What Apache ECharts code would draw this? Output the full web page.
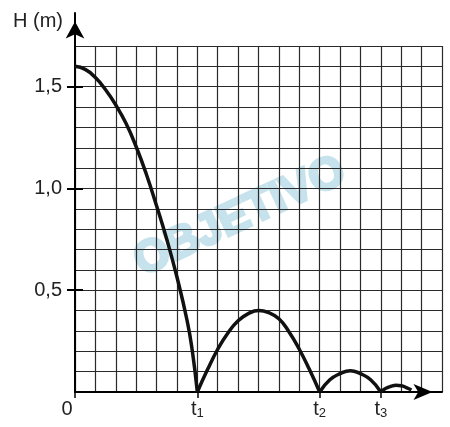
<!DOCTYPE html>
<html>
<head>
<meta charset="utf-8">
<script src="https://cdn.jsdelivr.net/npm/echarts@6/dist/echarts.min.js"></script>
<style>
html,body{margin:0;padding:0;background:#fff;}
#c{width:450px;height:427px;}
</style>
</head>
<body>
<div id="c"></div>
<script>
// Readings from the picture (t in grid units, H in metres)
const arc1T = [0, 0.5, 1, 1.5, 2, 2.5, 3, 3.5, 4, 4.5, 5, 5.5, 5.75, 6];
const arc1H = [1.60, 1.585, 1.545, 1.485, 1.41, 1.32, 1.205, 1.07, 0.915, 0.75, 0.565, 0.35, 0.205, 0];
const arc2T = [6, 6.5, 7, 7.5, 8, 8.5, 9, 9.5, 10, 10.5, 11, 11.5, 12];
const arc2H = [0, 0.11, 0.21, 0.29, 0.35, 0.385, 0.40, 0.39, 0.36, 0.295, 0.21, 0.11, 0];
const arc3T = [12, 12.5, 13, 13.5, 14, 14.5, 15];
const arc3H = [0, 0.06, 0.09, 0.105, 0.09, 0.06, 0];
const arc4T = [15, 15.25, 15.5, 15.75, 16, 16.25, 16.5];
const arc4H = [0, 0.018, 0.028, 0.033, 0.031, 0.022, 0.01];

const xTickValues = [0, 6, 12, 15];
const xTickLabels = ['0', 't1', 't2', 't3'];
const yTickValues = [0.5, 1.0, 1.5];

const FONT = '"Liberation Sans", Arial, Helvetica, sans-serif';
const pairs = (t, h) => t.map((v, i) => [v, h[i]]);

const chart = echarts.init(document.getElementById('c'), null, {renderer: 'canvas'});

function xLabel(v) {
  const i = xTickValues.indexOf(v);
  if (i < 0) return '';
  const s = xTickLabels[i];
  if (s.length === 1) return '{z|' + s + '}';
  return '{t|' + s[0] + '}{s|' + s.slice(1) + '}';
}

const arcLine = {color: '#111', width: 3.5};
const gridLine = {color: '#2a2a2a', width: 1.2};
const axisLine = {color: '#000', width: 2};
const hidden = {show: false};

const arcSeries = (t, h) => ({
  type: 'line', xAxisIndex: 0, yAxisIndex: 0, data: pairs(t, h),
  smooth: 0.5, showSymbol: false, lineStyle: arcLine, z: 5
});

const option = {
  animation: false,
  backgroundColor: '#fff',
  textStyle: {fontFamily: FONT},
  graphic: [{
    type: 'text', x: 240, y: 217, rotation: 25 * Math.PI / 180, z: -10,
    style: {text: 'OBJETIVO', fontSize: 45, fontWeight: 'bold', fontFamily: FONT,
            fill: '#c6e2ec', stroke: '#c6e2ec', lineWidth: 3,
            align: 'center', verticalAlign: 'middle'}
  }],
  grid: [
    {left: 75, right: 8, top: 46, bottom: 35},
    {left: 75, right: 8, top: 13, bottom: 35}
  ],
  xAxis: [{
    gridIndex: 0, type: 'value', min: 0, max: 18, interval: 1, position: 'bottom',
    axisLine: {show: true, lineStyle: axisLine,
               symbol: ['none', 'arrow'], symbolSize: [12, 19], symbolOffset: [0, -9.5]},
    axisTick: hidden, axisLabel: hidden,
    splitLine: {show: true, lineStyle: gridLine}
  }, {
    gridIndex: 1, type: 'value', min: 0, max: 1, show: false
  }, {
    gridIndex: 0, type: 'value', min: 0, max: 18, position: 'bottom',
    axisLine: hidden, splitLine: hidden,
    axisTick: {show: true, customValues: xTickValues, length: 6, lineStyle: {color: '#000', width: 1.5}},
    axisLabel: {
      customValues: xTickValues, margin: 6, color: '#222', fontFamily: FONT,
      formatter: xLabel,
      rich: {
        z: {fontSize: 20, fontFamily: FONT, color: '#222', padding: [0, 16, 0, 0], lineHeight: 22},
        t: {fontSize: 20, fontFamily: FONT, color: '#222', lineHeight: 22},
        s: {fontSize: 13, fontFamily: FONT, color: '#222', lineHeight: 13, padding: [14, 0, 0, 0], verticalAlign: 'bottom'}
      }
    }
  }],
  yAxis: [{
    gridIndex: 0, type: 'value', min: 0, max: 1.7, interval: 0.1, position: 'left',
    axisLine: {show: true, lineStyle: axisLine},
    axisTick: hidden, axisLabel: hidden,
    splitLine: {show: true, lineStyle: gridLine}
  }, {
    gridIndex: 0, type: 'value', min: 0, max: 1.7, position: 'left',
    axisLine: hidden, splitLine: hidden,
    axisTick: {show: true, customValues: yTickValues, length: 8, lineStyle: {color: '#000', width: 2}},
    axisLabel: {
      customValues: yTickValues, margin: 13, fontSize: 20, color: '#222', fontFamily: FONT,
      formatter: v => v.toFixed(1).replace('.', ',')
    }
  }, {
    gridIndex: 0, type: 'value', min: 0, max: 1.7, position: 'left',
    axisLine: hidden, splitLine: hidden, axisLabel: hidden,
    axisTick: {show: true, inside: true, customValues: yTickValues, length: 8, lineStyle: {color: '#000', width: 2}}
  }, {
    gridIndex: 1, type: 'value', min: 0, max: 1, position: 'left',
    name: 'H (m)', nameLocation: 'end', nameGap: -8,
    nameTextStyle: {fontSize: 20, color: '#222', fontFamily: FONT, align: 'right', verticalAlign: 'middle', padding: [0, 12, 0, 0]},
    axisLine: {show: true, lineStyle: axisLine,
               symbol: ['none', 'arrow'], symbolSize: [14, 17], symbolOffset: [0, -8.5]},
    axisTick: hidden, axisLabel: hidden, splitLine: hidden
  }],
  series: [
    arcSeries(arc1T, arc1H),
    arcSeries(arc2T, arc2H),
    arcSeries(arc3T, arc3H),
    arcSeries(arc4T, arc4H)
  ]
};
chart.setOption(option);
</script>
</body>
</html>
